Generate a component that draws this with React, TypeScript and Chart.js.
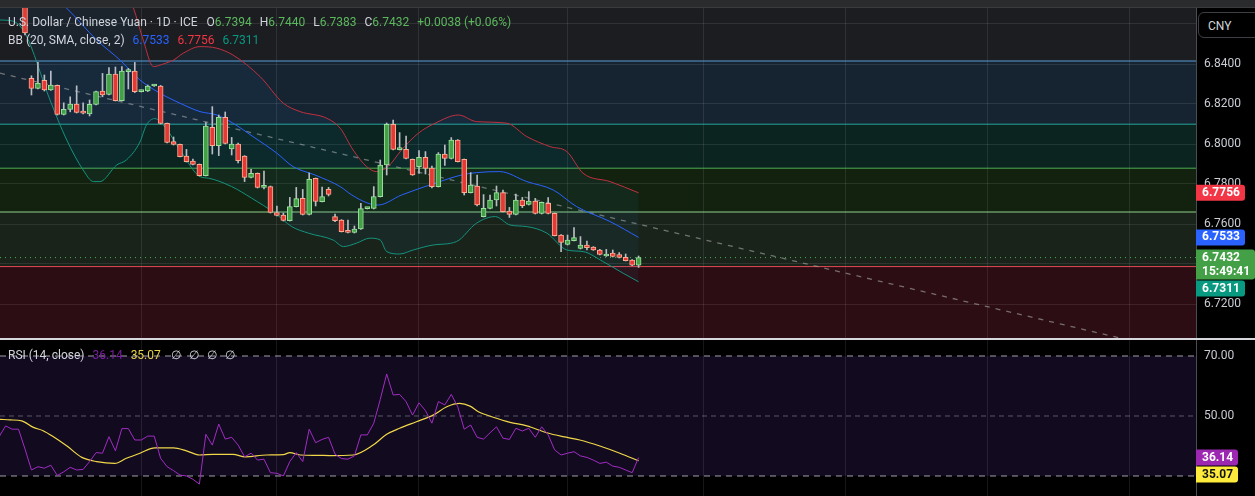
import React, { useEffect, useRef } from "react";
import { Chart, registerables } from "chart.js";

Chart.register(...registerables);

// ---------------- data ----------------
const opens = [
  6.874, 6.8328, 6.8278, 6.8318, 6.827, 6.8293, 6.8148, 6.8173, 6.82, 6.8156,
  6.8151, 6.8198, 6.8265, 6.8248, 6.835, 6.8217, 6.8362, 6.8365, 6.8262, 6.8265,
  6.829, 6.829, 6.8103, 6.8012, 6.7998, 6.794, 6.7915, 6.7898, 6.7842, 6.8083,
  6.7992, 6.8133, 6.7975, 6.8, 6.794, 6.7833, 6.7853, 6.7783, 6.7787, 6.7657,
  6.7645, 6.7617, 6.7687, 6.7728, 6.7648, 6.7828, 6.7712, 6.7773, 6.7637, 6.762,
  6.7562, 6.7558, 6.7575, 6.7677, 6.7678, 6.7737, 6.7895, 6.8098, 6.7972, 6.7973,
  6.7923, 6.7887, 6.7933, 6.788, 6.7787, 6.795, 6.7928, 6.802, 6.7923, 6.7757,
  6.779, 6.7637, 6.7678, 6.772, 6.7757, 6.7665, 6.7648, 6.772, 6.7698, 6.7715,
  6.7653, 6.7703, 6.7653, 6.7545, 6.7498, 6.7517, 6.7478, 6.7495, 6.7485, 6.747,
  6.744, 6.7455, 6.7447, 6.7433, 6.742, 6.7394,
];
const highs = [
  6.878, 6.8341, 6.8408, 6.8345, 6.8365, 6.8295, 6.8206, 6.8236, 6.8291, 6.8206,
  6.822, 6.8265, 6.8353, 6.8382, 6.8385, 6.8387, 6.8378, 6.8408, 6.827, 6.8295,
  6.8298, 6.8293, 6.8105, 6.8035, 6.8, 6.7973, 6.7925, 6.79, 6.8107, 6.8187,
  6.8145, 6.816, 6.8033, 6.8005, 6.7942, 6.7873, 6.7855, 6.7865, 6.779, 6.769,
  6.7655, 6.7733, 6.7783, 6.7773, 6.7855, 6.783, 6.7785, 6.7783, 6.765, 6.7622,
  6.762, 6.759, 6.7703, 6.7683, 6.7787, 6.792, 6.8105, 6.812, 6.8057, 6.804,
  6.7925, 6.7967, 6.7962, 6.789, 6.7957, 6.7995, 6.8032, 6.8022, 6.7925, 6.7857,
  6.7845, 6.7747, 6.7745, 6.779, 6.777, 6.7683, 6.775, 6.7733, 6.7762, 6.7728,
  6.771, 6.7732, 6.7655, 6.7547, 6.7545, 6.7582, 6.7537, 6.7515, 6.7487, 6.7473,
  6.7473, 6.747, 6.7457, 6.745, 6.7422, 6.744,
];
const lows = [
  6.8545, 6.8245, 6.8275, 6.8265, 6.8268, 6.8145, 6.8145, 6.8161, 6.8155, 6.815,
  6.814, 6.8196, 6.8236, 6.8245, 6.8215, 6.8215, 6.8275, 6.8257, 6.826, 6.8262,
  6.8288, 6.81, 6.8005, 6.7995, 6.7935, 6.791, 6.7895, 6.784, 6.784, 6.795,
  6.7942, 6.8, 6.7945, 6.7905, 6.7812, 6.783, 6.778, 6.7775, 6.7655, 6.764,
  6.7615, 6.7615, 6.7685, 6.7645, 6.7645, 6.769, 6.771, 6.774, 6.7612, 6.756,
  6.7555, 6.7555, 6.7573, 6.7675, 6.7675, 6.7735, 6.7845, 6.797, 6.797, 6.7925,
  6.7843, 6.7853, 6.785, 6.778, 6.7785, 6.7893, 6.7925, 6.791, 6.7745, 6.7755,
  6.769, 6.7635, 6.7675, 6.769, 6.766, 6.7633, 6.7645, 6.7682, 6.7695, 6.765,
  6.765, 6.765, 6.754, 6.7462, 6.7495, 6.7515, 6.7475, 6.747, 6.7468, 6.7445,
  6.7438, 6.7435, 6.743, 6.7415, 6.7392, 6.7383,
];
const closes = [
  6.8555, 6.8278, 6.8303, 6.827, 6.8295, 6.8148, 6.8173, 6.82, 6.8158, 6.8154,
  6.8198, 6.8262, 6.8245, 6.835, 6.8217, 6.8365, 6.8365, 6.8262, 6.8265, 6.829,
  6.8293, 6.8103, 6.8008, 6.7998, 6.7937, 6.7912, 6.7898, 6.7842, 6.809, 6.7992,
  6.8133, 6.8003, 6.8, 6.7917, 6.7833, 6.7853, 6.7783, 6.779, 6.7658, 6.7643,
  6.7618, 6.7687, 6.7727, 6.7648, 6.7823, 6.7713, 6.7737, 6.7748, 6.7617, 6.7562,
  6.7558, 6.7575, 6.7677, 6.768, 6.7737, 6.7895, 6.8098, 6.7973, 6.7975, 6.7928,
  6.7845, 6.7933, 6.7878, 6.7787, 6.795, 6.7928, 6.802, 6.7912, 6.7757, 6.7795,
  6.7695, 6.7678, 6.772, 6.7757, 6.7662, 6.7648, 6.772, 6.7692, 6.7715, 6.7653,
  6.7708, 6.7653, 6.7542, 6.7508, 6.752, 6.7532, 6.7495, 6.7482, 6.747, 6.7448,
  6.745, 6.7438, 6.7433, 6.7417, 6.7394, 6.7432,
];

// Bollinger Bands (20, SMA, close, 2): [bar index, value]
const bbUpperIdx = [-4, 12, 16.8, 18.3, 19.9, 21.4, 23.0, 24.5, 27.1, 29.7, 32.2, 36.4, 40.0, 42.6, 46.7, 48.8, 50.8, 52.9, 54.4, 56.2, 58.3, 60.9, 63.5, 67.1, 69.9, 74.6, 77.7, 81.3, 83.9, 86.4, 90.6, 95];
const bbUpperVal = [6.935, 6.905, 6.868, 6.852, 6.8387, 6.84, 6.842, 6.8454, 6.8487, 6.8479, 6.8445, 6.8337, 6.8204, 6.8162, 6.8129, 6.8079, 6.797, 6.7887, 6.7862, 6.7887, 6.797, 6.8054, 6.8104, 6.8145, 6.8112, 6.8104, 6.8037, 6.7987, 6.7962, 6.7854, 6.7812, 6.7756];
const bbMidIdx = [-4, 0, 6.46, 11.1, 14.7, 17.8, 20.9, 24.0, 27.1, 29.7, 32.2, 35.3, 39.0, 41.5, 44.9, 48.8, 50.6, 53.1, 54.7, 58.3, 63.5, 67.6, 69.9, 73.5, 77.7, 81.8, 85.4, 90.6, 95];
const bbMidVal = [6.905, 6.886, 6.8679, 6.852, 6.842, 6.832, 6.8254, 6.8204, 6.8162, 6.8145, 6.8104, 6.8037, 6.7954, 6.7887, 6.7845, 6.7787, 6.7745, 6.7704, 6.7695, 6.7745, 6.7804, 6.7845, 6.7857, 6.7862, 6.7812, 6.777, 6.7687, 6.7612, 6.7533];
const bbLowerIdx = [-3.87, -2, 0, 3.87, 6.46, 9.0, 10.6, 11.6, 14.2, 15.7, 17.8, 18.8, 20.1, 21.9, 24.0, 27.1, 28.4, 32.0, 35.1, 38.7, 41.3, 43.9, 47.7, 49.3, 51.3, 53.4, 55.0, 56.0, 58.0, 60.1, 63.2, 66.8, 69.9, 72.8, 75.1, 77.7, 80.8, 83.9, 86.4, 89.5, 92.6, 95];
const bbLowerVal = [6.862, 6.8615, 6.8554, 6.822, 6.802, 6.787, 6.7812, 6.7812, 6.7895, 6.792, 6.801, 6.8095, 6.8127, 6.8075, 6.797, 6.7837, 6.7829, 6.7787, 6.7729, 6.7654, 6.7587, 6.7554, 6.752, 6.7487, 6.7504, 6.7529, 6.752, 6.7462, 6.745, 6.747, 6.7495, 6.7512, 6.7604, 6.7637, 6.7595, 6.7587, 6.7554, 6.747, 6.7462, 6.7412, 6.7354, 6.7311];

// RSI (14, close), one value per bar starting at bar -4
const rsiFirstIndex = -4;
const rsiValues = [
  43.1, 46.7, 45.6, 45.6,
  39.0, 32.0, 33.1, 32.6, 33.6, 30.2, 31.4, 32.9, 32.0, 32.2,
  34.8, 37.8, 37.6, 43.1, 38.4, 45.8, 45.8, 42.0, 42.0, 43.3,
  43.3, 35.9, 33.1, 31.8, 30.3, 30.0, 28.9, 27.3, 43.9, 40.3,
  47.3, 42.3, 42.9, 40.3, 36.4, 37.6, 35.3, 35.6, 31.1, 30.9,
  30.0, 34.8, 37.8, 34.8, 45.6, 41.1, 42.2, 42.9, 37.3, 35.8,
  35.6, 36.7, 43.7, 43.7, 47.6, 55.5, 64.0, 57.0, 57.2, 54.8,
  50.3, 54.4, 51.8, 47.6, 54.8, 53.7, 57.2, 53.1, 45.6, 47.0,
  42.9, 42.3, 44.4, 46.4, 42.6, 42.2, 45.9, 45.0, 45.9, 42.9,
  46.4, 43.7, 38.7, 37.0, 37.6, 38.1, 36.7, 36.2, 35.3, 34.2,
  34.6, 33.3, 32.9, 32.0, 31.1, 36.14,
];
// RSI-based moving average: [bar index, value]
const rsiMaIdx = [-3.87, -2.3, -0.5, 1.3, 2.8, 4.4, 6.5, 8.8, 11.1, 13.9, 15.7, 17.8, 20.1, 23.0, 25.0, 27.0, 29.1, 32.2, 34.1, 37.4, 40.0, 41.0, 42.6, 45.2, 47.2, 50.8, 53.9, 56.0, 58.0, 60.6, 63.2, 65.3, 67.3, 68.9, 70.2, 72.5, 75.1, 77.7, 80.8, 83.3, 85.9, 89.0, 92.1, 95];
const rsiMaVal = [48.9, 48.7, 48.4, 46.2, 45.1, 43.1, 40.0, 36.2, 34.8, 34.2, 35.9, 37.6, 39.4, 39.4, 38.4, 37.0, 37.2, 37.2, 36.4, 37.0, 37.1, 37.8, 37.0, 36.9, 36.8, 37.0, 40.3, 43.9, 45.9, 48.1, 50.3, 53.1, 54.2, 53.3, 51.4, 49.6, 47.9, 46.7, 44.4, 43.1, 42.0, 40.0, 37.6, 35.07];

// drawings
const fibLevels = [6.8415, 6.8099, 6.7879, 6.766, 6.7387];
const trendIdx = [-3.87, 169.5];
const trendVal = [6.8354, 6.703];
const rsiBands = [70, 50, 30];

// axes
const priceTicks = [6.72, 6.74, 6.76, 6.78, 6.8, 6.82, 6.84, 6.86];
const rsiTicks = [30, 50, 70];
const monthTicks = [18, 39, 61, 84, 105, 127, 149, 171];
const X_MIN = -3.87;
const X_MAX = 181.3;
const PRICE_MIN = 6.7025;
const PRICE_MAX = 6.868;
const RSI_MIN = 23.333;
const RSI_MAX = 75.333;
const countdown = "15:49:41";

// ---------------- styles ----------------
const AXIS_W = 59;
const GRID = "rgba(255,255,255,0.09)";
const AXIS_TEXT = "#c9ccd3";
const FONT = "Roboto, 'Noto Sans', sans-serif";
const zoneLineColors = ["#5b9bd5", "#26a69a", "#4caf50", "#8fcf8c", "#e04a55"];
const zoneFillColors = ["#162431", "#0b2420", "#13220f", "#19231a", "#2c0d13"];
const UP = "#43a047";
const UP_BORDER = "#9be09e";
const DOWN = "#e53935";
const DOWN_BORDER = "#ffab91";

const last = closes.length - 1;
const change = closes[last] - closes[last - 1];

const pair = (xs: number[], ys: number[]) => xs.map((x, i) => ({ x, y: ys[i] }));

function roundRect(ctx: CanvasRenderingContext2D, x: number, y: number, w: number, h: number, r: number) {
  ctx.beginPath();
  ctx.moveTo(x, y);
  ctx.lineTo(x + w - r, y);
  ctx.quadraticCurveTo(x + w, y, x + w, y + r);
  ctx.lineTo(x + w, y + h - r);
  ctx.quadraticCurveTo(x + w, y + h, x + w - r, y + h);
  ctx.lineTo(x, y + h);
  ctx.closePath();
}

type Badge = { value: number; color: string; text: string; lines: string[]; minW: number };

function badgePlugin(id: string, badges: Badge[]) {
  return {
    id,
    afterDraw(chart: any) {
      const { ctx, chartArea } = chart;
      const y = chart.scales.y;
      const lineH = 14;
      ctx.save();
      ctx.font = `bold 12px ${FONT}`;
      ctx.textBaseline = "middle";
      const sorted = [...badges].sort((a, b) => b.value - a.value);
      let prevBottom = -1e9;
      for (const b of sorted) {
        const yp = y.getPixelForValue(b.value);
        const h = b.lines.length * lineH + 2;
        let top = yp - lineH / 2 - 1;
        if (top < prevBottom + 1) top = prevBottom + 1;
        let tw = 0;
        for (const l of b.lines) tw = Math.max(tw, ctx.measureText(l).width);
        const w = Math.max(b.minW, tw + 11);
        ctx.fillStyle = b.color;
        roundRect(ctx, chartArea.right, top, w, h, 3);
        ctx.fill();
        ctx.fillStyle = b.text;
        b.lines.forEach((l, i) => {
          ctx.fillText(l, chartArea.right + 6, top + 1 + lineH / 2 + i * lineH);
        });
        prevBottom = top + h;
      }
      ctx.restore();
    },
  };
}

const zonePlugin = {
  id: "zones",
  beforeDraw(chart: any) {
    const { ctx, chartArea: a } = chart;
    const y = chart.scales.y;
    ctx.save();
    ctx.fillStyle = "#1b1d21";
    ctx.fillRect(a.left, a.top, a.right - a.left, a.bottom - a.top);
    for (let i = 0; i < fibLevels.length; i++) {
      const y1 = y.getPixelForValue(fibLevels[i]);
      const y2 = i + 1 < fibLevels.length ? y.getPixelForValue(fibLevels[i + 1]) : a.bottom;
      ctx.fillStyle = zoneFillColors[i];
      ctx.fillRect(a.left, y1, a.right - a.left, y2 - y1);
    }
    ctx.restore();
  },
};

const rsiBandPlugin = {
  id: "rsiBand",
  beforeDraw(chart: any) {
    const { ctx, chartArea: a } = chart;
    const y = chart.scales.y;
    const y1 = y.getPixelForValue(rsiBands[0]);
    const y2 = y.getPixelForValue(rsiBands[2]);
    ctx.save();
    ctx.fillStyle = "#120a1f";
    ctx.fillRect(a.left, y1, a.right - a.left, y2 - y1);
    ctx.restore();
  },
};

function xScale() {
  return {
    type: "linear" as const,
    min: X_MIN,
    max: X_MAX,
    offset: false,
    grid: { color: GRID, drawTicks: false, offset: false },
    border: { display: false },
    ticks: { display: false },
    afterBuildTicks: (s: any) => {
      s.ticks = monthTicks.map((v) => ({ value: v }));
    },
    afterFit: (s: any) => {
      s.height = 0;
      s.paddingLeft = 0;
      s.paddingRight = 0;
    },
  };
}

function yScale(min: number, max: number, ticks: number[], digits: number, grid: boolean) {
  return {
    type: "linear" as const,
    position: "right" as const,
    min,
    max,
    grid: { display: grid, color: GRID, drawTicks: false },
    border: { display: true, color: "#4a4d55" },
    ticks: {
      color: AXIS_TEXT,
      padding: 8,
      font: { family: FONT, size: 12 },
      callback: (v: any) => Number(v).toFixed(digits),
    },
    afterBuildTicks: (s: any) => {
      s.ticks = ticks.map((v) => ({ value: v }));
    },
    afterFit: (s: any) => {
      s.width = AXIS_W;
      s.paddingTop = 0;
      s.paddingBottom = 0;
    },
  };
}

function PriceChart() {
  const ref = useRef<HTMLCanvasElement | null>(null);
  useEffect(() => {
    if (!ref.current) return;
    const up = closes.map((c, i) => c >= opens[i]);
    const datasets: any[] = [
      {
        type: "bar",
        data: closes.map((c, i) => ({ x: i, y: [opens[i], c] })),
        backgroundColor: up.map((u) => (u ? UP : DOWN)),
        borderColor: up.map((u) => (u ? UP_BORDER : DOWN_BORDER)),
        borderWidth: 1,
        borderSkipped: false,
        barThickness: 5,
        minBarLength: 2,
        grouped: false,
        order: 0,
      },
      {
        type: "bar",
        data: closes.map((_, i) => ({ x: i, y: [lows[i], highs[i]] })),
        backgroundColor: "#b9bcc2",
        barThickness: 1,
        grouped: false,
        order: 1,
      },
      {
        type: "line",
        data: pair(bbMidIdx, bbMidVal),
        borderColor: "#2962ff",
        borderWidth: 1,
        pointRadius: 0,
        cubicInterpolationMode: "monotone",
        order: 2,
      },
      {
        type: "line",
        data: pair(bbUpperIdx, bbUpperVal),
        borderColor: "#c2303f",
        borderWidth: 1,
        pointRadius: 0,
        cubicInterpolationMode: "monotone",
        fill: { target: 4 },
        backgroundColor: "rgba(33,150,243,0.06)",
        order: 2,
      },
      {
        type: "line",
        data: pair(bbLowerIdx, bbLowerVal),
        borderColor: "#15937a",
        borderWidth: 1,
        pointRadius: 0,
        cubicInterpolationMode: "monotone",
        order: 2,
      },
      {
        type: "line",
        data: pair(trendIdx, trendVal),
        borderColor: "rgba(160,160,160,0.65)",
        borderWidth: 1.3,
        borderDash: [5, 6],
        pointRadius: 0,
        order: 4,
      },
      {
        type: "line",
        data: [
          { x: X_MIN, y: closes[last] },
          { x: X_MAX, y: closes[last] },
        ],
        borderColor: "#4caf50",
        borderWidth: 1,
        borderDash: [1, 4],
        pointRadius: 0,
        order: 5,
      },
      ...fibLevels.map((lv, i) => ({
        type: "line",
        data: [
          { x: X_MIN, y: lv },
          { x: X_MAX, y: lv },
        ],
        borderColor: zoneLineColors[i],
        borderWidth: 1,
        pointRadius: 0,
        order: 6,
      })),
    ];
    const chart = new Chart(ref.current, {
      type: "bar",
      data: { datasets },
      options: {
        animation: false,
        responsive: true,
        maintainAspectRatio: false,
        layout: { padding: 0 },
        plugins: { legend: { display: false }, tooltip: { enabled: false } },
        scales: {
          x: xScale() as any,
          y: yScale(PRICE_MIN, PRICE_MAX, priceTicks, 4, true) as any,
        },
      },
      plugins: [
        zonePlugin,
        badgePlugin("priceBadges", [
          { value: bbUpperVal[bbUpperVal.length - 1], color: "#f23645", text: "#fff", lines: [bbUpperVal[bbUpperVal.length - 1].toFixed(4)], minW: 49 },
          { value: bbMidVal[bbMidVal.length - 1], color: "#2962ff", text: "#fff", lines: [bbMidVal[bbMidVal.length - 1].toFixed(4)], minW: 49 },
          { value: closes[last], color: "#43a047", text: "#fff", lines: [closes[last].toFixed(4), countdown], minW: 49 },
          { value: bbLowerVal[bbLowerVal.length - 1], color: "#089981", text: "#fff", lines: [bbLowerVal[bbLowerVal.length - 1].toFixed(4)], minW: 49 },
        ]),
      ],
    } as any);
    return () => chart.destroy();
  }, []);
  return <canvas ref={ref} />;
}

function RsiChart() {
  const ref = useRef<HTMLCanvasElement | null>(null);
  useEffect(() => {
    if (!ref.current) return;
    const datasets: any[] = [
      {
        type: "line",
        data: rsiValues.map((v, i) => ({ x: rsiFirstIndex + i, y: v })),
        borderColor: "#a12cc4",
        borderWidth: 1,
        pointRadius: 0,
        order: 0,
      },
      {
        type: "line",
        data: pair(rsiMaIdx, rsiMaVal),
        borderColor: "#f0d84a",
        borderWidth: 1.2,
        pointRadius: 0,
        cubicInterpolationMode: "monotone",
        order: 1,
      },
      ...rsiBands.map((b) => ({
        type: "line",
        data: [
          { x: X_MIN, y: b },
          { x: X_MAX, y: b },
        ],
        borderColor: b === 50 ? "rgba(150,150,165,0.55)" : "rgba(200,200,205,0.8)",
        borderWidth: 1,
        borderDash: b === 50 ? [5, 4] : [6, 5],
        pointRadius: 0,
        order: 3,
      })),
    ];
    const chart = new Chart(ref.current, {
      type: "line",
      data: { datasets },
      options: {
        animation: false,
        responsive: true,
        maintainAspectRatio: false,
        layout: { padding: 0 },
        plugins: { legend: { display: false }, tooltip: { enabled: false } },
        scales: {
          x: xScale() as any,
          y: yScale(RSI_MIN, RSI_MAX, rsiTicks, 2, false) as any,
        },
      },
      plugins: [
        rsiBandPlugin,
        badgePlugin("rsiBadges", [
          { value: rsiValues[rsiValues.length - 1], color: "#9c27b0", text: "#fff", lines: [rsiValues[rsiValues.length - 1].toFixed(2)], minW: 42 },
          { value: rsiMaVal[rsiMaVal.length - 1], color: "#ffeb3b", text: "#111", lines: [rsiMaVal[rsiMaVal.length - 1].toFixed(2)], minW: 42 },
        ]),
      ],
    } as any);
    return () => chart.destroy();
  }, []);
  return <canvas ref={ref} />;
}

const legendText: React.CSSProperties = {
  position: "absolute",
  left: 8,
  whiteSpace: "nowrap",
  fontFamily: FONT,
  fontSize: 12,
  lineHeight: "16px",
  color: "#d1d4dc",
};

export default function App() {
  const green = "#5cb85c";
  const sign = change >= 0 ? "+" : "";
  const pct = (change / closes[last - 1]) * 100;
  return (
    <div
      style={{
        position: "fixed",
        left: 0,
        top: 0,
        width: 1255,
        height: 496,
        background: "#000",
        overflow: "hidden",
        fontFamily: FONT,
      }}
    >
      <div style={{ position: "absolute", left: 0, top: 8, width: 1255, height: 331 }}>
        <PriceChart />
      </div>
      <div style={{ position: "absolute", left: 0, top: 0, width: 1255, height: 8, background: "#2a2b2d", borderBottom: "1px solid #3a3b3e", boxSizing: "border-box" }} />
      <div style={{ position: "absolute", left: 0, top: 338, width: 1255, height: 2, background: "#d6d8de" }} />
      <div style={{ position: "absolute", left: 0, top: 340, width: 1255, height: 156 }}>
        <RsiChart />
      </div>

      <div style={{ ...legendText, top: 14 }}>
        <span>U.S. Dollar / Chinese Yuan · 1D · ICE</span>
        <span style={{ marginLeft: 9 }}>O</span>
        <span style={{ color: green }}>{opens[last].toFixed(4)}</span>
        <span style={{ marginLeft: 8 }}>H</span>
        <span style={{ color: green }}>{highs[last].toFixed(4)}</span>
        <span style={{ marginLeft: 8 }}>L</span>
        <span style={{ color: green }}>{lows[last].toFixed(4)}</span>
        <span style={{ marginLeft: 8 }}>C</span>
        <span style={{ color: green }}>{closes[last].toFixed(4)}</span>
        <span style={{ color: green, marginLeft: 8 }}>
          {sign}
          {change.toFixed(4)} ({sign}
          {pct.toFixed(2)}%)
        </span>
      </div>
      <div style={{ ...legendText, top: 32 }}>
        <span>BB (20, SMA, close, 2)</span>
        <span style={{ color: "#2962ff", marginLeft: 8 }}>{bbMidVal[bbMidVal.length - 1].toFixed(4)}</span>
        <span style={{ color: "#f23645", marginLeft: 8 }}>{bbUpperVal[bbUpperVal.length - 1].toFixed(4)}</span>
        <span style={{ color: "#089981", marginLeft: 8 }}>{bbLowerVal[bbLowerVal.length - 1].toFixed(4)}</span>
      </div>
      <div style={{ ...legendText, top: 347 }}>
        <span>RSI (14, close)</span>
        <span style={{ color: "#7b1fa2", marginLeft: 8 }}>{rsiValues[rsiValues.length - 1].toFixed(2)}</span>
        <span style={{ color: "#e8d44a", marginLeft: 8 }}>{rsiMaVal[rsiMaVal.length - 1].toFixed(2)}</span>
        <span style={{ marginLeft: 10, letterSpacing: 8 }}>∅∅∅∅</span>
      </div>

      <div
        style={{
          position: "absolute",
          left: 1198,
          top: 12,
          width: 62,
          height: 26,
          border: "1px solid #3d3f45",
          borderRadius: 6,
          background: "#000",
          color: "#d1d4dc",
          fontSize: 12,
          lineHeight: "26px",
          paddingLeft: 9,
          boxSizing: "border-box",
        }}
      >
        CNY
      </div>
    </div>
  );
}
